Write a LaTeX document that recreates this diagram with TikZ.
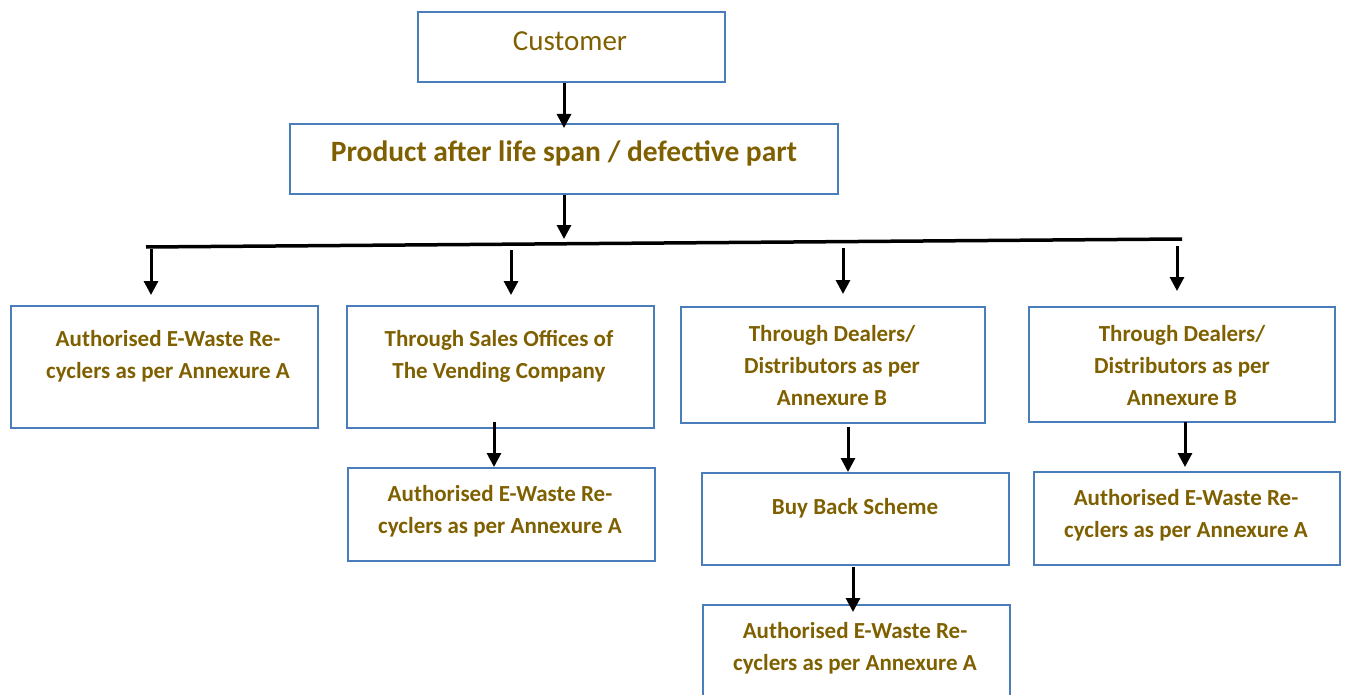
\documentclass[tikz,border=0pt]{standalone}
\usepackage{fontspec}
\setmainfont{Carlito}
\usetikzlibrary{arrows.meta}
\definecolor{txtc}{HTML}{7F6000}
\definecolor{boxc}{HTML}{4A7EBB}
\tikzset{
  box/.style={draw=boxc, line width=2.2pt, anchor=north west, inner sep=0pt},
  txt/.style={text=txtc, font=\bfseries\fontsize{23}{32}\selectfont, align=center, inner sep=0pt},
  arr/.style={line width=3pt, -{Triangle[width=14pt,length=14pt]}},
  bar/.style={line width=3.5pt}
}
\begin{document}
\begin{tikzpicture}[x=1pt,y=-1pt]
\useasboundingbox (0,0) rectangle (1346,695);
% boxes
\node[box, minimum width=307pt, minimum height=70pt] (cust) at (417,11) {};
\node[txt, font=\fontsize{29}{32}\selectfont] (custt) at (570,41) {Customer};
\node[box, minimum width=548pt, minimum height=70pt] (prod) at (289,123) {};
\node[txt, font=\bfseries\fontsize{29.5}{32}\selectfont] (prodt) at (564,153) {Product after life span / defective part};

\node[box, minimum width=307pt, minimum height=122pt] (a1) at (10,305) {};
\node[txt] (a1t) at (168,356) {Authorised E-Waste Re-\\cyclers as per Annexure A};
\node[box, minimum width=307pt, minimum height=122pt] (b1) at (346,305) {};
\node[txt] (b1t) at (499,356) {Through Sales Offices of\\The Vending Company};
\node[box, minimum width=304pt, minimum height=116pt] (c1) at (680,306) {};
\node[txt] (c1t) at (832,366) {Through Dealers/\\Distributors as per\\Annexure B};
\node[box, minimum width=306pt, minimum height=115pt] (d1) at (1028,306) {};
\node[txt] (d1t) at (1182,366) {Through Dealers/\\Distributors as per\\Annexure B};

\node[box, minimum width=307pt, minimum height=93pt] (b2) at (347,467) {};
\node[txt] (b2t) at (500,511) {Authorised E-Waste Re-\\cyclers as per Annexure A};
\node[box, minimum width=307pt, minimum height=92pt] (c2) at (701,472) {};
\node[txt] (c2t) at (855,508) {Buy Back Scheme};
\node[box, minimum width=307pt, minimum height=100pt] (c3) at (702,604) {};
\node[txt] (c3t) at (855,648) {Authorised E-Waste Re-\\cyclers as per Annexure A};
\node[box, minimum width=306pt, minimum height=93pt] (d2) at (1033,471) {};
\node[txt] (d2t) at (1186,515) {Authorised E-Waste Re-\\cyclers as per Annexure A};

% bar
\coordinate (barL) at (146,247);
\coordinate (barR) at (1182,239);
\draw[bar] (barL) -- (barR);
\coordinate (p0) at (564,83);
\coordinate (p1) at (564,128);
\coordinate (q0) at (564,195);
\coordinate (q1) at (564,239);
\coordinate (s1) at (151,249);
\coordinate (s2) at (511,250);
\coordinate (s3) at (843,248);
\coordinate (s4) at (1177,246);
\coordinate (e1) at (151,295);
\coordinate (e2) at (511,295);
\coordinate (e3) at (843,294);
\coordinate (e4) at (1177,291);

% arrows
\draw[arr] (p0) -- (p1);
\draw[arr] (q0) -- (q1);
\draw[arr] (s1) -- (e1);
\draw[arr] (s2) -- (e2);
\draw[arr] (s3) -- (e3);
\draw[arr] (s4) -- (e4);
\draw[arr] (494,422) -- (494,467);
\draw[arr] (848,427) -- (848,472);
\draw[arr] (853,567) -- (853,612);
\draw[arr] (1185,422) -- (1185,467);
\end{tikzpicture}
\end{document}
